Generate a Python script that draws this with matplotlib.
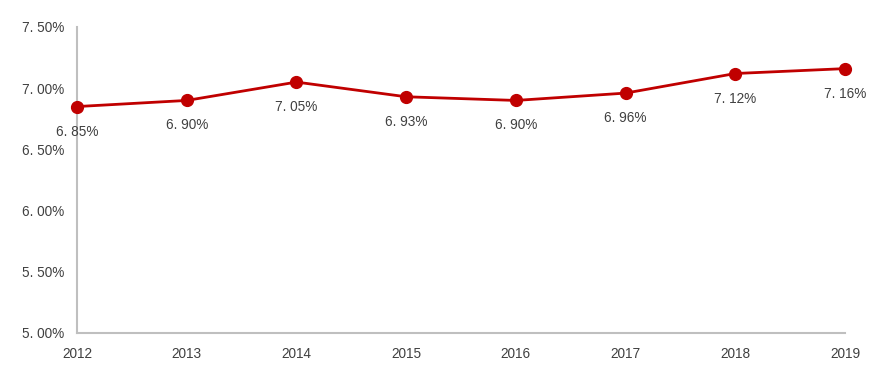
import matplotlib
matplotlib.use("Agg")
import matplotlib.pyplot as plt

years = ["2012", "2013", "2014", "2015", "2016", "2017", "2018", "2019"]
values = [6.85, 6.90, 7.05, 6.93, 6.90, 6.96, 7.12, 7.16]
labels = ["6. 85%", "6. 90%", "7. 05%", "6. 93%", "6. 90%", "6. 96%", "7. 12%", "7. 16%"]
yticks = [5.0, 5.5, 6.0, 6.5, 7.0, 7.5]
ytick_labels = ["5. 00%", "5. 50%", "6. 00%", "6. 50%", "7. 00%", "7. 50%"]

plt.rcParams['font.family'] = ['Liberation Sans', 'DejaVu Sans']

fig = plt.figure(figsize=(8.79, 3.75), dpi=100)
ax = fig.add_axes([77/879, 42/375, (845-77)/879, (333-27)/375])

x = list(range(len(years)))
ax.plot(x, values, color="#C00000", lw=2.0, marker="o", markersize=8.5, clip_on=False, zorder=3)
for xi, v, lab in zip(x, values, labels):
    ax.annotate(lab, (xi, v), xytext=(0, -18), textcoords="offset points",
                ha="center", va="center", fontsize=9.8, color="#404040")

ax.set_xlim(0, 7)
ax.set_ylim(5.0, 7.5)
ax.set_xticks(x)
ax.set_xticklabels(years)
ax.set_yticks(yticks)
ax.set_yticklabels(ytick_labels)
ax.tick_params(axis="both", length=0, labelsize=9.8, labelcolor="#404040")
ax.tick_params(axis="y", pad=9)
ax.tick_params(axis="x", pad=10)
for s in ["top", "right"]:
    ax.spines[s].set_visible(False)
for s in ["left", "bottom"]:
    ax.spines[s].set_color("#BFBFBF")
    ax.spines[s].set_linewidth(1.5)

fig.savefig("out.png", dpi=100)
